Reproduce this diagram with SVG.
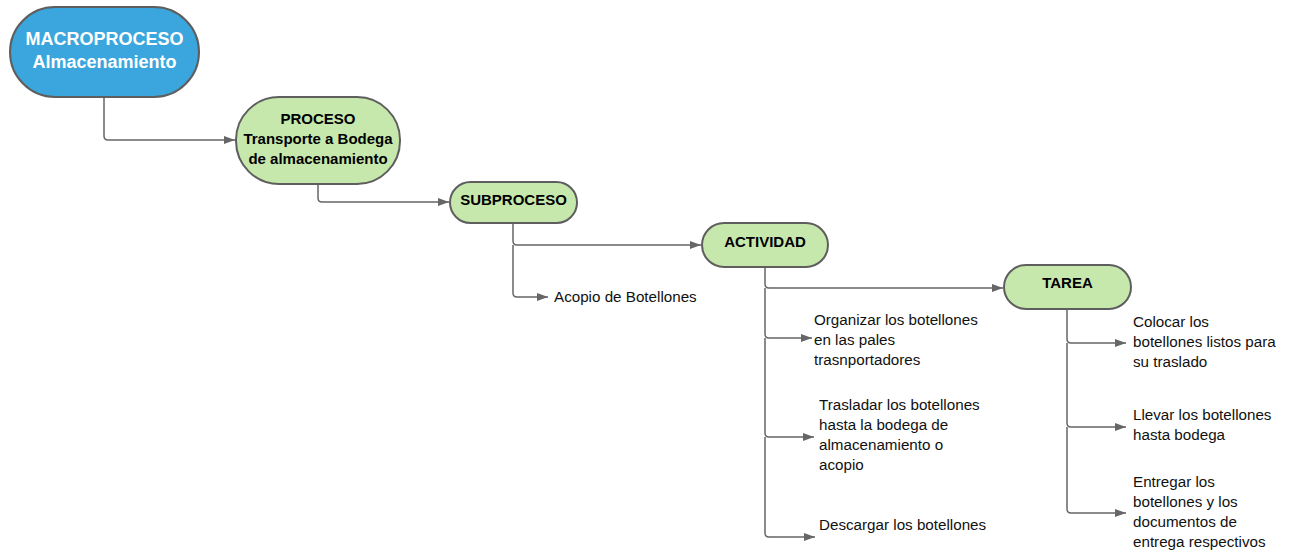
<svg xmlns="http://www.w3.org/2000/svg" width="1299" height="555" viewBox="0 0 1299 555">
<style>
.box{stroke:#5e5e5e;stroke-width:2}
.blue{fill:#3aa6dd}
.green{fill:#c7e8ac}
.t{font-family:"Liberation Sans",Arial,sans-serif;text-anchor:middle;font-weight:bold}
.tw{fill:#ffffff;font-size:18px}
.tb{fill:#000000;font-size:15px}
.lbl{font-family:"Liberation Sans",Arial,sans-serif;font-size:15.2px;fill:#111111}
.c{fill:none;stroke:#666666;stroke-width:1.5}
</style>
<defs>
<marker id="arr" markerUnits="userSpaceOnUse" markerWidth="12" markerHeight="10" refX="11" refY="4" orient="auto">
<path d="M0,0 L11,4 L0,8 Z" fill="#666666"/>
</marker>
</defs>
<rect width="1299" height="555" fill="#ffffff"/>
<g id="connectors">
<path class="c" marker-end="url(#arr)" d="M104 97 L104 136 Q104 140 108 140 L235 140"/>
<path class="c" marker-end="url(#arr)" d="M318 184 L318 198 Q318 202 322 202 L449 202"/>
<path class="c" marker-end="url(#arr)" d="M513 223 L513 241 Q513 245 517 245 L701 245"/>
<path class="c" marker-end="url(#arr)" d="M513 245 L513 293 Q513 297 517 297 L548 297"/>
<path class="c" marker-end="url(#arr)" d="M765 267 L765 284 Q765 288 769 288 L1003 288"/>
<path class="c" marker-end="url(#arr)" d="M765 288 L765 334 Q765 338 769 338 L812 338"/>
<path class="c" marker-end="url(#arr)" d="M765 338 L765 433 Q765 437 769 437 L814 437"/>
<path class="c" marker-end="url(#arr)" d="M765 437 L765 533 Q765 537 769 537 L815 537"/>
<path class="c" marker-end="url(#arr)" d="M1067 309 L1067 339 Q1067 343 1071 343 L1126 343"/>
<path class="c" marker-end="url(#arr)" d="M1067 343 L1067 423 Q1067 427 1071 427 L1126 427"/>
<path class="c" marker-end="url(#arr)" d="M1067 427 L1067 509 Q1067 513 1071 513 L1126 513"/>
</g>
<g id="macroproceso">
<rect class="box blue" x="10" y="7" width="189" height="90" rx="45" ry="45"/>
<text class="t tw" x="104.5" y="45">MACROPROCESO</text>
<text class="t tw" x="104.5" y="68">Almacenamiento</text>
</g>
<g id="proceso">
<rect class="box green" x="236" y="97" width="164" height="87" rx="43" ry="43"/>
<text class="t tb" x="318" y="124">PROCESO</text>
<text class="t tb" x="318" y="144">Transporte a Bodega</text>
<text class="t tb" x="318" y="164">de almacenamiento</text>
</g>
<g id="subproceso">
<rect class="box green" x="450" y="182" width="127" height="41" rx="20.5" ry="20.5"/>
<text class="t tb" x="513.5" y="205">SUBPROCESO</text>
</g>
<g id="actividad">
<rect class="box green" x="702" y="223" width="126" height="44" rx="22" ry="22"/>
<text class="t tb" x="765" y="247">ACTIVIDAD</text>
</g>
<g id="tarea">
<rect class="box green" x="1004" y="265" width="127" height="44" rx="22" ry="22"/>
<text class="t tb" x="1067.5" y="288">TAREA</text>
</g>
<g id="acopio">
<text class="lbl" x="554" y="302">Acopio de Botellones</text>
</g>
<g id="organizar">
<text class="lbl" x="814" y="325">Organizar los botellones</text>
<text class="lbl" x="814" y="345">en las pales</text>
<text class="lbl" x="814" y="365">trasnportadores</text>
</g>
<g id="trasladar">
<text class="lbl" x="819" y="410">Trasladar los botellones</text>
<text class="lbl" x="819" y="430">hasta la bodega de</text>
<text class="lbl" x="819" y="450">almacenamiento o</text>
<text class="lbl" x="819" y="470">acopio</text>
</g>
<g id="descargar">
<text class="lbl" x="819" y="530">Descargar los botellones</text>
</g>
<g id="colocar">
<text class="lbl" x="1133" y="327">Colocar los</text>
<text class="lbl" x="1133" y="347">botellones listos para</text>
<text class="lbl" x="1133" y="367">su traslado</text>
</g>
<g id="llevar">
<text class="lbl" x="1133" y="420">Llevar los botellones</text>
<text class="lbl" x="1133" y="440">hasta bodega</text>
</g>
<g id="entregar">
<text class="lbl" x="1133" y="487">Entregar los</text>
<text class="lbl" x="1133" y="507">botellones y los</text>
<text class="lbl" x="1133" y="527">documentos de</text>
<text class="lbl" x="1133" y="547">entrega respectivos</text>
</g>
</svg>
